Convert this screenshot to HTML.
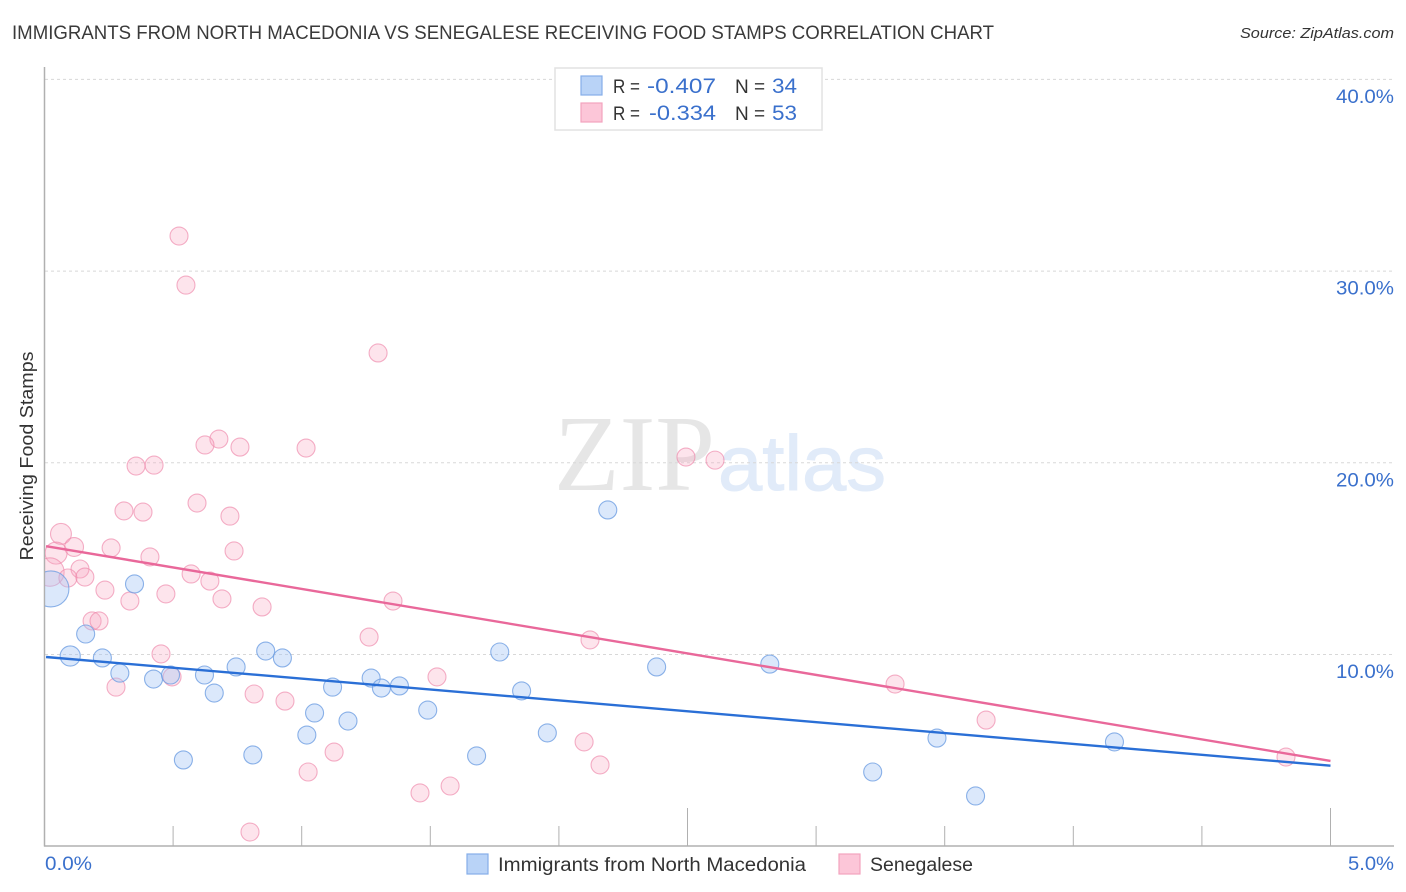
<!DOCTYPE html>
<html lang="en">
<head>
<meta charset="utf-8">
<title>Immigrants from North Macedonia vs Senegalese Receiving Food Stamps Correlation Chart</title>
<style>
html,body{margin:0;padding:0;background:#fff;width:1406px;height:892px;overflow:hidden}
svg{display:block;font-family:"Liberation Sans",sans-serif}
</style>
</head>
<body>
<svg id="chart" width="1406" height="892" viewBox="0 0 1406 892" xmlns="http://www.w3.org/2000/svg">
  <defs><clipPath id="plot-clip"><rect x="45" y="60" width="1350" height="786"/></clipPath></defs>
  <text x="12" y="39" font-size="19" fill="#3a3a3a" textLength="982" lengthAdjust="spacingAndGlyphs">IMMIGRANTS FROM NORTH MACEDONIA VS SENEGALESE RECEIVING FOOD STAMPS CORRELATION CHART</text>
  <text x="1394" y="38" font-size="15" font-style="italic" fill="#333" text-anchor="end" textLength="154" lengthAdjust="spacingAndGlyphs">Source: ZipAtlas.com</text>
  <g>
    <text x="554" y="490" font-family="'Liberation Serif',serif" font-size="108" fill="#e6e6e6" textLength="161" lengthAdjust="spacingAndGlyphs">ZIP</text>
    <text x="718" y="490" font-size="78" fill="#e1ebf9" stroke="#e1ebf9" stroke-width="1" textLength="168" lengthAdjust="spacingAndGlyphs">atlas</text>
  </g>
  <g id="grid"></g>
  <g id="axes"></g>
  <g id="points" clip-path="url(#plot-clip)"></g>
  <g id="lines"></g>
  <g id="labels"></g>
  <text transform="translate(33,456) rotate(-90)" font-size="18" fill="#333" text-anchor="middle" textLength="209" lengthAdjust="spacingAndGlyphs">Receiving Food Stamps</text>

  <g>
    <rect x="555" y="68" width="267" height="62" fill="#fff" stroke="#e2e2e2" stroke-width="1.5"/>
    <rect x="581" y="76" width="21" height="19" fill="#b9d3f7" stroke="#85aee8" stroke-width="1.2"/>
    <rect x="581" y="103" width="21" height="19" fill="#fcc6d8" stroke="#f3a3bf" stroke-width="1.2"/>
    <text x="613" y="93" font-size="19" fill="#333" textLength="27" lengthAdjust="spacingAndGlyphs">R =</text>
    <text x="716" y="93" font-size="21" fill="#3a70cc" text-anchor="end" textLength="69" lengthAdjust="spacingAndGlyphs">-0.407</text>
    <text x="735" y="93" font-size="19" fill="#333">N =</text>
    <text x="772" y="93" font-size="21" fill="#3a70cc" textLength="25" lengthAdjust="spacingAndGlyphs">34</text>
    <text x="613" y="120" font-size="19" fill="#333" textLength="27" lengthAdjust="spacingAndGlyphs">R =</text>
    <text x="716" y="120" font-size="21" fill="#3a70cc" text-anchor="end" textLength="67" lengthAdjust="spacingAndGlyphs">-0.334</text>
    <text x="735" y="120" font-size="19" fill="#333">N =</text>
    <text x="772" y="120" font-size="21" fill="#3a70cc" textLength="25" lengthAdjust="spacingAndGlyphs">53</text>
  </g>

  <g>
    <rect x="467" y="854" width="21" height="20" fill="#b9d3f7" stroke="#85aee8" stroke-width="1.2"/>
    <text x="498" y="871" font-size="19" fill="#333" textLength="308" lengthAdjust="spacingAndGlyphs">Immigrants from North Macedonia</text>
    <rect x="839" y="854" width="21" height="20" fill="#fcc6d8" stroke="#f3a3bf" stroke-width="1.2"/>
    <text x="870" y="871" font-size="19" fill="#333" textLength="103" lengthAdjust="spacingAndGlyphs">Senegalese</text>
  </g>
</svg>
<script>
const yTicks = [10, 20, 30, 40];
const yTickLabels = ["10.0%", "20.0%", "30.0%", "40.0%"];
const xTicks = [0.5, 1, 1.5, 2, 2.5, 3, 3.5, 4, 4.5, 5];
const xMajorTicks = [2.5, 5];
const xEndLabels = ["0.0%", "5.0%"];

const blueX = [0.025,0.35,0.16,0.10,0.225,0.293,0.424,0.49,0.622,0.66,0.745,0.86,0.925,1.12,1.05,1.02,0.81,0.54,1.18,1.27,1.31,1.38,1.49,1.68,1.77,1.855,1.955,2.19,2.38,2.82,3.22,3.47,3.62,4.16];
const blueY = [13.42,13.68,11.07,9.92,9.82,9.03,8.72,8.93,8.93,7.99,9.35,10.18,9.82,8.30,6.95,5.80,4.76,4.50,6.53,8.77,8.25,8.36,7.10,4.71,10.13,8.10,5.91,17.54,9.35,9.50,3.87,5.64,2.62,5.44];
const blueWeight = [4,1,1,1.25,1,1,1,1,1,1,1,1,1,1,1,1,1,1,1,1,1,1,1,1,1,1,1,1,1,1,1,1,1,1];

const pinkX = [0.523,0.55,1.297,0.678,0.624,0.76,1.017,0.356,0.426,0.593,0.309,0.383,0.721,0.064,0.115,0.045,0.259,0.41,0.737,0.021,0.138,0.091,0.157,0.57,0.643,0.235,0.472,0.332,0.69,0.846,1.355,0.185,0.212,1.262,2.121,0.453,0.496,0.278,1.526,0.815,0.935,1.126,1.025,2.098,2.16,1.577,1.46,0.799,2.494,2.607,3.307,3.661,4.827];
const pinkY = [31.83,29.27,25.73,21.24,20.93,20.82,20.77,19.83,19.88,17.90,17.49,17.43,17.22,16.29,15.61,15.29,15.56,15.09,15.40,14.30,14.46,13.99,14.04,14.20,13.83,13.36,13.16,12.79,12.90,12.48,12.79,11.75,11.75,10.91,10.76,10.03,8.83,8.30,8.83,7.94,7.57,4.91,3.87,5.44,4.24,3.14,2.78,0.74,20.30,20.14,8.46,6.58,4.65];
const pinkWeight = [1,1,1,1,1,1,1,1,1,1,1,1,1,1.35,1.1,1.5,1,1,1,2.5,1,1,1,1,1,1,1,1,1,1,1,1,1,1,1,1,1,1,1,1,1,1,1,1,1,1,1,1,1,1,1,1,1];

const blueTrendX = [0.006, 5];
const blueTrendY = [9.87, 4.2];
const pinkTrendX = [0.006, 5];
const pinkTrendY = [15.65, 4.45];

const NS = "http://www.w3.org/2000/svg";
function xScale(v) { return 44.5 + v * 257.2; }
function yScale(v) { return 846.2 - v * 19.17; }
function rScale(w) { return 9 * Math.sqrt(w); }
function make(parent, tag, attrs, text) {
  const el = document.createElementNS(NS, tag);
  for (const k in attrs) el.setAttribute(k, attrs[k]);
  if (text !== undefined) el.textContent = text;
  document.getElementById(parent).appendChild(el);
  return el;
}

yTicks.forEach(function (t, i) {
  const g = make("grid", "line", {x1: 45, x2: 1394, y1: yScale(t), y2: yScale(t), stroke: "#d8d8d8", "stroke-width": 1, "stroke-dasharray": "3 3"});
  
  
  const l = make("labels", "text", {x: 1394, y: yScale(t) + 23.5, "font-size": 19.5, fill: "#3a70cc", "text-anchor": "end", textLength: 58, lengthAdjust: "spacingAndGlyphs"}, yTickLabels[i]);
  
  
});

const axisColor = "#b0b0b0";
const yAxis = make("axes", "line", {x1: 44.5, x2: 44.5, y1: 67, y2: 846.5, stroke: axisColor, "stroke-width": 1.5});


const xAxis = make("axes", "line", {x1: 44, x2: 1394, y1: 846, y2: 846, stroke: axisColor, "stroke-width": 1.5});


xTicks.forEach(function (t) {
  const top = xMajorTicks.indexOf(t) >= 0 ? 808 : 826;
  const tick = make("axes", "line", {x1: xScale(t), x2: xScale(t), y1: top, y2: 846, stroke: axisColor, "stroke-width": 1});
  
  
});
const x0 = make("labels", "text", {x: 45, y: 870, "font-size": 19.5, fill: "#3a70cc", textLength: 47, lengthAdjust: "spacingAndGlyphs"}, xEndLabels[0]);


const x1 = make("labels", "text", {x: 1394, y: 870, "font-size": 19.5, fill: "#3a70cc", "text-anchor": "end", textLength: 46, lengthAdjust: "spacingAndGlyphs"}, xEndLabels[1]);



pinkX.forEach(function (v, i) {
  const c = make("points", "circle", {cx: xScale(v), cy: yScale(pinkY[i]), r: rScale(pinkWeight[i]), fill: "#f8a6c1", "fill-opacity": 0.3, stroke: "#ee86a9", "stroke-opacity": 0.65, "stroke-width": 1.1});
  
  
});
blueX.forEach(function (v, i) {
  const c = make("points", "circle", {cx: xScale(v), cy: yScale(blueY[i]), r: rScale(blueWeight[i]), fill: "#a4c6f4", "fill-opacity": 0.4, stroke: "#6f9fe2", "stroke-opacity": 0.8, "stroke-width": 1.1});
  
  
});

const blueLine = make("lines", "line", {x1: xScale(blueTrendX[0]), y1: yScale(blueTrendY[0]), x2: xScale(blueTrendX[1]), y2: yScale(blueTrendY[1]), stroke: "#2a6fd6", "stroke-width": 2.4});


const pinkLine = make("lines", "line", {x1: xScale(pinkTrendX[0]), y1: yScale(pinkTrendY[0]), x2: xScale(pinkTrendX[1]), y2: yScale(pinkTrendY[1]), stroke: "#e9689a", "stroke-width": 2.4});


</script>
</body>
</html>
